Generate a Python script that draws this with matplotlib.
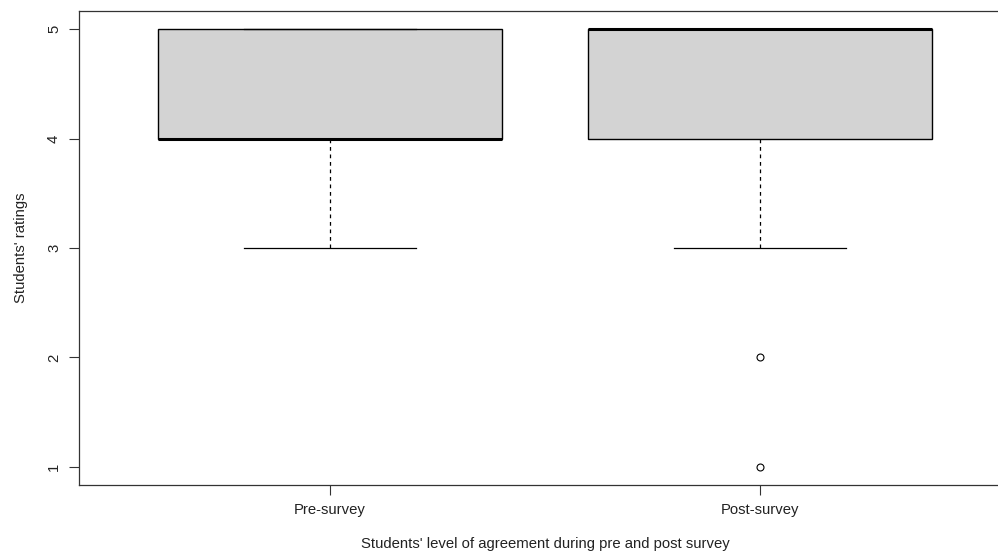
import matplotlib.pyplot as plt

# Five-number summaries of the ratings for each survey
groups = ["Pre-survey", "Post-survey"]
lower_whisker = [3, 3]
q1 = [4, 4]
median = [4, 5]
q3 = [5, 5]
upper_whisker = [5, 5]
outliers = [[], [2, 1]]

plt.rcParams["font.family"] = ["Liberation Sans", "DejaVu Sans"]

stats = []
for i in range(len(groups)):
    stats.append({"label": groups[i], "whislo": lower_whisker[i], "q1": q1[i],
                  "med": median[i], "q3": q3[i], "whishi": upper_whisker[i],
                  "fliers": outliers[i]})

fig = plt.figure(figsize=(9.98, 5.6), dpi=100)
ax = fig.add_axes([0.0792, 0.1339, 0.934, 0.8465])

ax.bxp(stats, positions=[1, 2], widths=0.8, patch_artist=True,
       boxprops=dict(facecolor="#d3d3d3", edgecolor="black", linewidth=1),
       medianprops=dict(color="black", linewidth=2.2, solid_capstyle="butt"),
       whiskerprops=dict(color="black", linewidth=0.9, linestyle=(0, (3, 3))),
       capprops=dict(color="black", linewidth=0.9),
       capwidths=0.4,
       flierprops=dict(marker="o", markerfacecolor="white", markeredgecolor="black",
                       markersize=5, markeredgewidth=0.8))

ax.set_xlim(0.416, 2.584)
ax.set_ylim(0.835, 5.165)
ax.set_yticks([1, 2, 3, 4, 5])
ax.set_yticklabels(["1", "2", "3", "4", "5"], rotation=90, va="center")
ax.set_xticks([1, 2])
ax.set_xticklabels(groups)
ax.tick_params(direction="out", length=7, width=0.8, labelsize=10.7, color="#333333",
               labelcolor="#222222", pad=6)

for s in ax.spines.values():
    s.set_linewidth(0.9)
    s.set_color("#333333")

ax.set_ylabel("Students' ratings", fontsize=10.7, color="#222222", labelpad=14)
ax.set_xlabel("Students' level of agreement during pre and post survey",
              fontsize=10.7, color="#222222", labelpad=14)

fig.savefig("out.png", dpi=100)
